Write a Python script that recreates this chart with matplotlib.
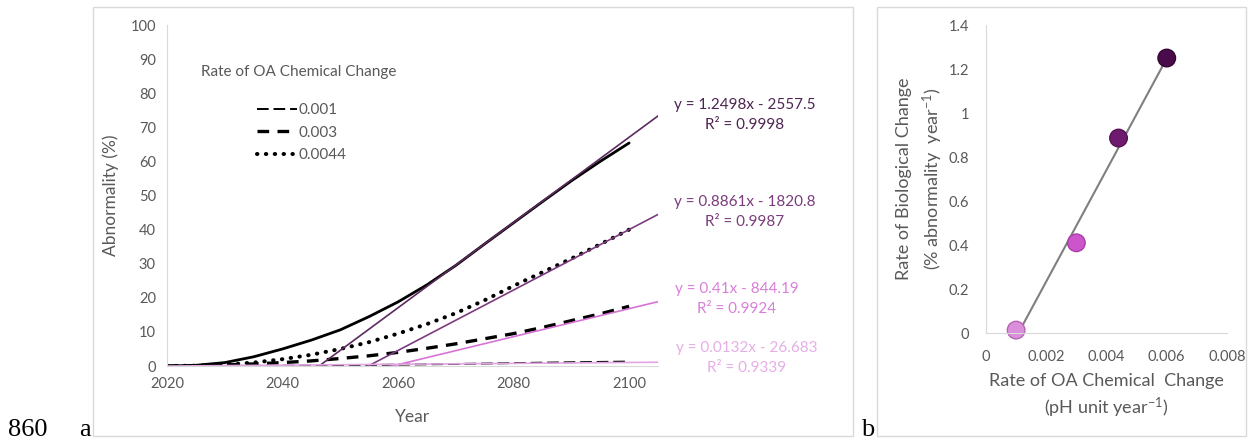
import numpy as np
import matplotlib
matplotlib.use("Agg")
import matplotlib.pyplot as plt
from matplotlib.patches import Rectangle

plt.rcParams['font.family'] = ['Lato', 'DejaVu Sans']
plt.rcParams['mathtext.default'] = 'regular'

GREY = '#595959'
AXIS_GREY = '#d9d9d9'

# panel a: modelled abnormality per year for each rate of OA chemical change
years = [2020, 2025, 2030, 2035, 2040, 2045, 2050, 2055, 2060,
         2065, 2070, 2075, 2080, 2085, 2090, 2095, 2100]
abn_0001 = [0, 0, 0.02, 0.05, 0.1, 0.15, 0.22, 0.3, 0.4,
            0.5, 0.6, 0.72, 0.85, 0.98, 1.1, 1.2, 1.3]
abn_0003 = [0, 0.05, 0.3, 0.6, 1.0, 1.5, 2.2, 3.0, 4.0,
            5.2, 6.5, 8.0, 9.5, 11.3, 13.3, 15.3, 17.5]
abn_00044 = [0, 0.1, 0.4, 1.0, 2.0, 3.3, 5.0, 7.0, 9.5,
             12.3, 15.5, 19.3, 23.5, 27.5, 31.5, 35.7, 40.0]
abn_0006 = [0, 0.2, 1.0, 2.7, 5.0, 7.6, 10.6, 14.5, 18.8,
            23.8, 29.5, 35.8, 42.0, 48.2, 54.3, 60.0, 65.4]

# linear trendlines (slope, intercept, r2) as printed on the chart
trend_slopes = [1.2498, 0.8861, 0.41, 0.0132]
trend_icepts = [-2557.5, -1820.8, -844.19, -26.683]
trend_r2 = ['0.9998', '0.9987', '0.9924', '0.9339']
trend_colors = ['#5c2a5e', '#7d3b7f', '#d674d6', '#e3a6e3']
trend_text_colors = ['#4e2452', '#7a3c7c', '#d97fd9', '#e6aee6']
trend_text_pos = [(1.177, 0.736), (1.177, 0.452), (1.160, 0.196), (1.180, 0.023)]

# panel b: rate of biological change vs rate of OA chemical change
chem_rate = [0.001, 0.003, 0.0044, 0.006]
bio_rate = [0.0132, 0.41, 0.8861, 1.2498]
point_colors = ['#db8fdb', '#cc55cc', '#6e1a6e', '#4a0b4a']
point_edges = ['#b565b5', '#a83ea8', '#551255', '#330633']

fig = plt.figure(figsize=(12.48, 4.4), dpi=100)

# panel frames
fig.patches.append(Rectangle((93 / 1248, 1 - 436 / 440), 760 / 1248, 429 / 440,
                             transform=fig.transFigure, fill=False,
                             edgecolor=AXIS_GREY, lw=1))
fig.patches.append(Rectangle((877 / 1248, 1 - 436 / 440), 369 / 1248, 429 / 440,
                             transform=fig.transFigure, fill=False,
                             edgecolor=AXIS_GREY, lw=1))

# ---- panel a ----
ax = fig.add_axes([167 / 1248, 1 - 366 / 440, 491 / 1248, 341 / 440])
ax.plot(years, abn_0006, color='black', lw=2, solid_capstyle='round')
l1, = ax.plot(years, abn_0001, color='black', lw=1.4, dashes=(6, 2.5))
l2, = ax.plot(years, abn_0003, color='black', lw=2.4, dashes=(3.5, 2.5))
l3, = ax.plot(years, abn_00044, color='black', lw=2.9, dashes=(0.1, 2.1),
              dash_capstyle='round')

xt = np.array([2020, 2105])
for m, b, c in zip(trend_slopes, trend_icepts, trend_colors):
    ax.plot(xt, m * xt + b, color=c, lw=1.2)

for m, b, r2, c, (tx, ty) in zip(trend_slopes, trend_icepts, trend_r2,
                                 trend_text_colors, trend_text_pos):
    sign = '-' if b < 0 else '+'
    ax.text(tx, ty, f'y = {m:g}x {sign} {abs(b):g}\nR² = {r2}',
            transform=ax.transAxes, ha='center', va='center', color=c,
            fontsize=11, linespacing=1.5, clip_on=False)

ax.set_xlim(2020, 2105)
ax.set_ylim(0, 100)
ax.set_xticks(range(2020, 2101, 20))
ax.set_yticks(range(0, 101, 10))
for s in ['top', 'right']:
    ax.spines[s].set_visible(False)
for s in ['left', 'bottom']:
    ax.spines[s].set_color(AXIS_GREY)
ax.tick_params(length=0, colors=GREY, labelsize=10.5, pad=8)
ax.set_xlabel('Year', color=GREY, fontsize=12.5, labelpad=13)
ax.set_ylabel('Abnormality (%)', color=GREY, fontsize=12.5, labelpad=8)

ax.text(0.269, 0.862, 'Rate of OA Chemical Change', transform=ax.transAxes,
        ha='center', va='center', color=GREY, fontsize=11)
ax.legend([l1, l2, l3], ['0.001', '0.003', '0.0044'], loc='upper left',
          bbox_to_anchor=(0.183, 0.77), frameon=False, borderpad=0,
          borderaxespad=0, handlelength=2.6, handletextpad=0.1,
          labelspacing=0.55, fontsize=11, labelcolor=GREY)

# ---- panel b ----
bx = fig.add_axes([986 / 1248, 1 - 333 / 440, 241 / 1248, 308 / 440])
fit = np.polyfit(chem_rate, bio_rate, 1)
xf = np.array([chem_rate[0], chem_rate[-1]])
bx.plot(xf, np.polyval(fit, xf), color='#7f7f7f', lw=1.5, zorder=1)
bx.scatter(chem_rate, bio_rate, s=160, c=point_colors, edgecolors=point_edges,
           linewidths=1, zorder=2, clip_on=False)
bx.set_xlim(0, 0.008)
bx.set_ylim(0, 1.4)
bx.set_xticks([0, 0.002, 0.004, 0.006, 0.008])
bx.set_xticklabels(['0', '0.002', '0.004', '0.006', '0.008'])
bx.set_yticks([0, 0.2, 0.4, 0.6, 0.8, 1.0, 1.2, 1.4])
bx.set_yticklabels(['0', '0.2', '0.4', '0.6', '0.8', '1', '1.2', '1.4'])
for s in ['top', 'right']:
    bx.spines[s].set_visible(False)
for s in ['left', 'bottom']:
    bx.spines[s].set_color(AXIS_GREY)
bx.tick_params(length=0, colors=GREY, labelsize=10.5, pad=12)
bx.set_xlabel('Rate of OA Chemical  Change\n(pH unit year$^{-1}$)',
              color=GREY, fontsize=13, labelpad=7, linespacing=1.35)
bx.set_ylabel('Rate of Biological Change\n(% abnormality  year$^{-1}$)',
              color=GREY, fontsize=13, labelpad=3, linespacing=1.45)

# panel letters and line number
fig.text(8 / 1248, 1 - 436 / 440, '860', family='Liberation Serif',
         fontsize=19, va='baseline')
fig.text(79 / 1248, 1 - 436 / 440, 'a', family='Liberation Serif',
         fontsize=19, va='baseline')
fig.text(861 / 1248, 1 - 436 / 440, 'b', family='Liberation Serif',
         fontsize=19, va='baseline')

fig.savefig('out.png', dpi=100)
